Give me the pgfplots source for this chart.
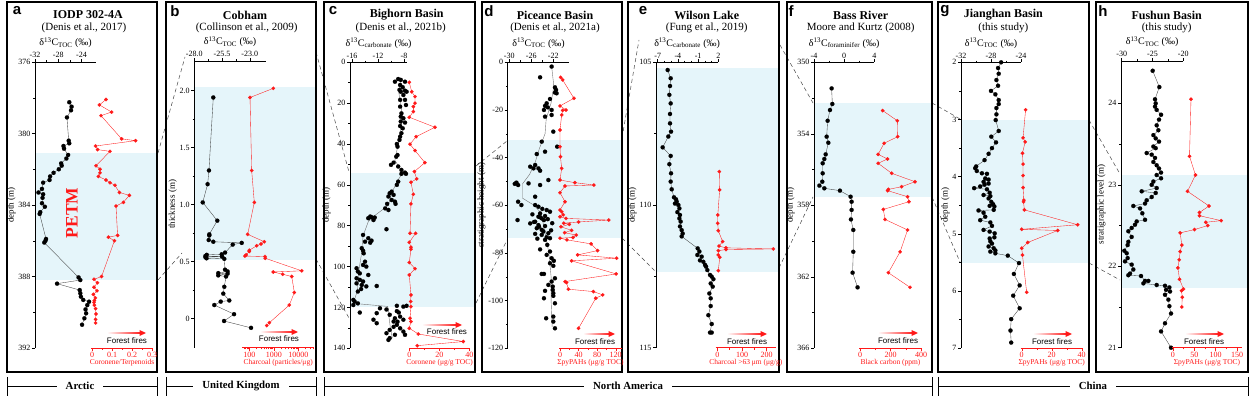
\documentclass[border=0pt]{standalone}
\usepackage{fontspec}
\setmainfont{Liberation Serif}
\newfontfamily\arial{Liberation Sans}
\usepackage{pgfplots}
\pgfplotsset{compat=1.18}
\usetikzlibrary{arrows.meta}
\definecolor{band}{RGB}{229,245,250}
\definecolor{myred}{RGB}{255,25,25}
\definecolor{dgray}{RGB}{70,70,70}
\pgfplotsset{
  base/.style={scale only axis, clip=false,
    /pgf/number format/assume math mode=true,
    tick label style={font=\fontsize{8}{9}\selectfont},
    major tick length=3pt, minor tick length=1.8pt},
  noarrows/.style={axis line style={-}, every outer x axis line/.append style={-}, every outer y axis line/.append style={-},
    every inner x axis line/.append style={-}, every inner y axis line/.append style={-}},
  blkax/.style={base, axis y line=left,
    xlabel style={font=\fontsize{7.5}{8}\selectfont, inner sep=1pt},
    ylabel style={font=\fontsize{9}{10}\selectfont, inner sep=1pt},
    xticklabel style={inner sep=1pt}, yticklabel style={inner sep=1.5pt}},
  redax/.style={base, axis y line=none, ytick=\empty,
    xticklabel style={text=myred, inner sep=1pt},
    xlabel style={text=myred, font=\fontsize{7.5}{8}\selectfont, inner sep=0.5pt}},
  redfin/.style={noarrows, axis line style={myred, line width=0.5pt}, every tick/.style={myred, line width=0.4pt}, tick align=outside},
  blkfin/.style={noarrows, axis line style={black, line width=0.6pt}, every tick/.style={black, line width=0.5pt}, tick align=outside},
  bk/.style={draw=black!75, line width=0.35pt, mark=*, mark size=2.1pt, mark options={fill=black, draw=black, line width=0.1pt}},
  bkm/.style={only marks, mark=*, mark size=2.1pt, mark options={fill=black, draw=black, line width=0.1pt}},
  trend/.style={draw=black!55, line width=0.4pt, no marks},
  rd/.style={draw=myred, line width=0.35pt, mark=*, mark size=1.8pt, mark options={fill=myred, draw=myred, line width=0.1pt}},
}
\begin{document}
\begin{tikzpicture}[x=1pt,y=1pt]
\path[use as bounding box] (0,0) rectangle (1254,399);
\begin{scope}[shift={(0,399)}, yscale=-1]
% bands
\fill[band] (35,153) rectangle (157,280);
\fill[band] (194.3,87.3) rectangle (316,260);
\fill[band] (350,173.3) rectangle (475,306.7);
\fill[band] (507.7,140) rectangle (622,238.3);
\fill[band] (656,67.7) rectangle (779,271.7);
\fill[band] (814,102.7) rectangle (932,196.7);
\fill[band] (961,120) rectangle (1089,262.7);
\fill[band] (1121,175) rectangle (1248,288.3);
% dashed correlation lines
\begin{scope}[dgray, line width=0.5pt, dash pattern=on 4pt off 3pt]
\draw (158,153) -- (185,57);
\draw (158,280) -- (182,253);
\draw (316,52) -- (349,172);
\draw (316,259) -- (349,318);
\draw (476,166) -- (507,141);
\draw (476,303) -- (507,240);
\draw (622,138) -- (639,40);
\draw (622,238) -- (655,271);
\draw (780,45) -- (813,103);
\draw (779,268) -- (813,197);
\draw (932,103) -- (960,119);
\draw (932,197) -- (960,262);
\draw (1089,120) -- (1120,174);
\draw (1089,263) -- (1120,280);
\end{scope}
% frames
\begin{scope}[line width=1.6pt]
\draw (7,2) rectangle (157,372);
\draw (166,2) rectangle (316,372);
\draw (324,2) rectangle (475,372);
\draw (482,2) rectangle (622,372);
\draw (628,2) rectangle (779,372);
\draw (787,2) rectangle (932,372);
\draw (938,2) rectangle (1089,372);
\draw (1096,2) rectangle (1248,372);
\end{scope}
% titles
\begin{scope}[font=\fontsize{12}{14}\selectfont\bfseries]
\node at (88,15) {IODP 302-4A};
\node at (245,15) {Cobham};
\node at (406.7,15) {Bighorn Basin};
\node at (555,15) {Piceance Basin};
\node at (706.7,15) {Wilson Lake};
\node at (860.7,15) {Bass River};
\node at (1003.3,15) {Jianghan Basin};
\node at (1166.7,15) {Fushun Basin};
\end{scope}
\begin{scope}[font=\fontsize{11}{13}\selectfont]
\node at (84,28) {(Denis et al., 2017)};
\node at (246.7,28) {(Collinson et al., 2009)};
\node at (400.7,28) {(Denis et al., 2021b)};
\node at (555,28) {(Denis et al., 2021a)};
\node at (706.7,28) {(Fung et al., 2019)};
\node at (860.7,28) {Moore and Kurtz (2008)};
\node at (1003.3,28) {(this study)};
\node at (1166.7,28) {(this study)};
\end{scope}
\begin{scope}[font=\arial\fontsize{15}{16}\selectfont\bfseries]
\node at (17,11) {a};
\node at (175,11) {b};
\node at (333,11) {c};
\node at (489,11) {d};
\node at (643,11) {e};
\node at (791,11) {f};
\node at (945,11) {g};
\node at (1103,11) {h};
\end{scope}
\node[rotate=90, text=myred, font=\fontsize{17.5}{18}\selectfont\bfseries] at (72,213) {PETM};
% forest fire arrows
\foreach \xa/\xb/\ya/\xt/\yt in {107/146/333/127/341, 260/298/332/279/339, 422/462/325/447/332, 583/615/334/595/342, 727/767/334/747/342, 878/918/333/898/341, 1033/1072/334/1052/342, 1185/1224/334/1204/342}{
  \shade[left color=white, right color=myred] (\xa,\ya-0.8) rectangle (\xb-5,\ya+0.8);
  \fill[myred] (\xb-6.5,\ya-3) -- (\xb,\ya) -- (\xb-6.5,\ya+3) -- cycle;
  \node[font=\arial\fontsize{8}{9}\selectfont] at (\xt,\yt) {Forest fires};
}
% region bars
\begin{scope}[line width=0.8pt]
\foreach \xa/\xb/\xc/\txt in {7/157/80/Arctic, 166/316/241/United Kingdom, 324/932/628/North America, 938/1248/1093/China}{
  \draw (\xa,386) -- (\xb,386);
  \draw (\xa,377) -- (\xa,396);
  \draw (\xb,377) -- (\xb,396);
  \node[fill=white, inner xsep=9pt, inner ysep=1pt, font=\fontsize{10.8}{12}\selectfont\bfseries] at (\xc,386) {\txt};
}
\end{scope}
\end{scope}

% ================= Panel a =================
\begin{axis}[blkax, at={(35pt,51pt)}, anchor=south west, width=61pt, height=286pt,
  xmin=-32, xmax=-21.5, ymin=376, ymax=392, y dir=reverse, axis x line=top,
  xtick={-32,-28,-24}, minor x tick num=1, ytick={376,380,384,388,392}, minor y tick num=1,
  xlabel={δ\textsuperscript{13}C\textsubscript{TOC} (‰)}, ylabel={depth (m)}, blkfin]
\addplot[bk] coordinates {(-26.1,378.25)(-25.7,378.5)(-25.8,378.7)(-26.5,379.1)(-26.2,380.4)(-26.1,380.55)(-27.1,380.7)(-27.0,380.85)(-26.3,381.2)(-26.6,381.4)(-27.5,381.67)(-27.4,381.8)(-27.9,382.0)(-28.8,382.2)(-29.4,382.4)(-29.5,382.6)(-30.6,382.75)(-30.8,383.1)(-31.4,383.3)(-30.6,383.4)(-30.7,383.6)(-30.8,383.9)(-30.3,384.1)(-31.1,384.4)(-31.2,384.5)(-30.1,385.9)(-30.2,386.0)(-30.4,386.1)(-24.5,388.05)(-24.2,388.2)(-28.2,388.4)(-24.3,388.76)(-24.2,388.94)(-24.1,389.13)(-23.7,389.31)(-22.7,389.41)(-23.0,389.6)(-23.3,389.84)(-23.2,390.06)(-23.5,390.34)(-23.9,390.7)};
\end{axis}
\begin{axis}[redax, at={(91pt,51pt)}, anchor=south west, width=62pt, height=286pt,
  xmin=-0.005, xmax=0.305, ymin=376, ymax=392, y dir=reverse, axis x line=bottom,
  xtick={0,0.1,0.2,0.3}, minor x tick num=1, xlabel={Coronene/Terpenoids}, redfin]
\addplot[rd] coordinates {(0.07,378.1)(0.037,378.4)(0.098,378.8)(0.045,379.0)(0.148,380.3)(0.218,380.4)(0.018,380.7)(0.028,380.9)(0.09,381.0)(0.02,381.8)(0.04,382.0)(0.04,382.2)(0.032,382.4)(0.07,382.6)(0.09,382.75)(0.115,382.9)(0.137,383.3)(0.187,383.46)(0.157,383.85)(0.12,384.06)(0.128,385.7)(0.082,385.8)(0.112,386.0)(0.048,388.0)(0.01,388.16)(0.027,388.35)(0.01,388.6)(0.025,388.8)(0.007,389.0)(0.017,389.2)(0.012,389.35)(0.01,389.45)(0.012,389.6)(0.018,389.8)(0.02,390.1)(0.018,390.4)(0.018,390.6)};
\end{axis}

% ================= Panel b =================
\begin{axis}[blkax, at={(194.3pt,51.3pt)}, anchor=south west, width=71.4pt, height=286.7pt,
  xmin=-28, xmax=-21.57, ymin=-0.254, ymax=2.26, axis x line=top,
  xtick={-28,-25.5,-23}, xticklabels={-28.0,-25.5,-23.0}, minor x tick num=1,
  ytick={0,0.5,1,1.5,2}, yticklabels={0,0.5,1.0,1.5,2.0}, minor y tick num=1,
  xlabel={δ\textsuperscript{13}C\textsubscript{TOC} (‰)}, ylabel={thickness (m)}, blkfin]
\addplot[bk] coordinates {(-26.29,1.94)(-26.68,1.30)(-26.8,1.18)(-27.24,1.02)(-25.93,0.86)(-26.65,0.74)(-26.65,0.73)(-26.7,0.69)(-26.29,0.675)(-23.73,0.665)(-24.54,0.65)(-25.23,0.58)(-25.53,0.565)(-26.88,0.56)(-27.0,0.55)(-25.5,0.545)(-27.0,0.54)(-26.9,0.53)(-25.3,0.525)(-25.23,0.43)(-25.0,0.415)(-25.84,0.40)(-25.0,0.395)(-25.84,0.38)(-25.14,0.37)(-25.3,0.28)(-25.39,0.22)(-24.85,0.16)(-25.62,0.15)(-26.2,0.12)(-24.42,0.04)(-25.32,-0.02)(-22.89,-0.08)};
\end{axis}
\begin{axis}[redax, at={(242.3pt,51.3pt)}, anchor=south west, width=71.7pt, height=286.7pt,
  xmode=log, xmin=51.8, xmax=43750, ymin=-0.254, ymax=2.26, axis x line=bottom,
  xtick={100,1000,10000}, xticklabels={100,1000,10000},
  minor xtick={60,70,80,90,200,300,400,500,600,700,800,900,2000,3000,4000,5000,6000,7000,8000,9000,20000,30000,40000},
  xlabel={Charcoal (particles/μg)}, redfin]
\addplot[rd] coordinates {(950,2.02)(107,1.94)(125,1.30)(160,1.02)(86,0.74)(410,0.675)(300,0.655)(200,0.64)(100,0.60)(100,0.59)(74,0.56)(66,0.55)(437,0.545)(450,0.53)(13800,0.42)(950,0.41)(2300,0.39)(5400,0.37)(6900,0.23)(4300,0.12)(660,-0.035)(515,-0.06)};
\end{axis}

% ================= Panel c =================
\begin{axis}[blkax, at={(350pt,50.7pt)}, anchor=south west, width=57pt, height=286pt,
  xmin=-16.31, xmax=-7.54, ymin=0, ymax=140, y dir=reverse, axis x line=top,
  xtick={-16,-12,-8}, minor x tick num=1, ytick={0,20,...,140}, minor y tick num=1,
  xlabel={δ\textsuperscript{13}C\textsubscript{carbonate} (‰)}, ylabel={depth (m)}, blkfin]
\addplot[trend] coordinates {(-8.5,8)(-8.8,15)(-8.4,22)(-8.4,30)(-8.9,40)(-9.4,48)(-8.2,54)(-9,58)(-9.9,64)(-10.4,70)(-12.5,75)(-13.5,78)(-14.3,85)(-14.6,95)(-15.0,103)(-15.2,112)(-15.8,118)(-10.5,119.5)(-10.3,125)(-10.1,130)(-9.8,135)};
\addplot[bkm] coordinates {(-8.9,8.2)(-8.5,8.6)(-9.4,9.5)(-7.85,9.5)(-8.6,11.1)(-8.2,12.2)(-8.7,13.5)(-8.5,14.4)(-7.85,13.9)(-7.6,14.4)(-8.1,16.0)(-8.6,18.4)(-7.85,18.4)(-7.7,20.9)(-8.6,21.7)(-8.4,25)(-8.5,26.6)(-8.1,27.4)(-8.5,29)(-7.85,29.5)(-8.6,31.2)(-8.2,32.3)(-8.4,34.7)(-8.6,36.4)(-8.7,38)(-9.1,40)(-9.0,41.3)(-9.0,45.4)(-9.2,46.2)(-9.6,49.1)(-10.0,50.2)(-8.9,51)(-8.4,52.7)(-7.85,54)(-7.7,54.6)(-8.4,54.6)(-8.9,58.4)(-9.1,60)(-9.9,63.3)(-10.2,64.1)(-9.6,64.9)(-10.4,65.7)(-9.9,67.4)(-9.4,68.2)(-10.6,69.3)(-9.3,69.3)(-10.9,71.5)(-10.4,72.3)(-13.2,75.5)(-13.5,76.3)(-12.5,76)(-12.7,77.2)(-13.0,75.8)(-10.7,81.7)(-14.3,84.5)(-13.5,86.1)(-13.0,87.3)(-13.2,88.3)(-14.0,87.8)(-14.5,91)(-14.3,92.2)(-14.2,93.5)(-14.0,97.6)(-14.3,99.2)(-13.8,100)(-15.3,100.8)(-15.1,102.4)(-14.8,103.3)(-13.5,104.1)(-15.3,105.7)(-14.8,106.5)(-14.3,107.3)(-15.3,108.2)(-14.5,109)(-12.2,109.5)(-13.8,109.7)(-15.1,112.2)(-14.6,111)(-15.8,116.3)(-15.6,117.1)(-15.1,118)(-15.8,118.8)(-9.1,119.2)(-8.1,119.6)(-7.6,119.2)(-11.7,120.4)(-10.7,121)(-9.1,121.8)(-14.8,122.5)(-12.2,122.8)(-10.2,123.6)(-8.6,124.5)(-9.4,125.3)(-8.1,126)(-9.6,126.9)(-12.7,126)(-12.2,127.7)(-9.1,128.5)(-8.6,130.2)(-10.2,131)(-8.1,131.8)(-10.7,132.6)(-9.4,133.4)(-7.85,133.4)(-10.2,135)(-10.4,135.9)(-9.0,127)(-8.8,122.5)(-9.6,129.5)};
\end{axis}
\begin{axis}[redax, at={(409.3pt,50.7pt)}, anchor=south west, width=60.7pt, height=286pt,
  xmin=0, xmax=40.47, ymin=0, ymax=140, y dir=reverse, axis x line=bottom,
  xtick={0,20,40}, minor x tick num=1, xlabel={Coronene (μg/g TOC)}, redfin]
\addplot[rd] coordinates {(0,9.8)(1.6,14.4)(3.8,16.8)(3.8,20)(2.7,21.7)(2.7,24.1)(0,26.9)(17.1,31.8)(4.5,36.4)(0.5,40.1)(3.8,43.2)(10.4,49.1)(3.4,53.5)(4.9,57.1)(1.1,58.7)(2.7,64.6)(1.1,69.3)(0.5,83.7)(4.2,83.7)(0,88.1)(1.1,90.5)(1.1,91.5)(0,98)(3.8,101)(0,104.1)(1.1,113.9)(0.9,117.1)(1.1,119.6)(0.5,125.3)(1.1,126.9)(0,130.2)(6,133)(36,136.7)(5.3,138.7)};
\end{axis}

% ================= Panel d =================
\begin{axis}[blkax, at={(507.7pt,50.7pt)}, anchor=south west, width=61.6pt, height=286pt,
  xmin=-30.29, xmax=-19.09, ymin=-120, ymax=0, axis x line=top,
  xtick={-30,-26,-22}, minor x tick num=1, ytick={-120,-100,...,0}, minor y tick num=1,
  xlabel={δ\textsuperscript{13}C\textsubscript{TOC} (‰)}, ylabel={stratigraphic height (m)}, blkfin]
\addplot[trend] coordinates {(-22.3,-1.8)(-21.9,-10)(-22.4,-17)(-23.3,-24)(-23.5,-30)(-24.5,-36)(-25.3,-42)(-26.3,-47)(-27.6,-51)(-27.6,-57)(-25.5,-60)(-24.3,-63)(-23.8,-68)(-23.3,-74)(-22.8,-80)(-22.4,-90)(-22.4,-100)(-22.2,-111)};
\addplot[bkm] coordinates {(-22.3,-1.8)(-24.4,-6.3)(-21.7,-10.5)(-21.5,-11.6)(-21.7,-12.7)(-21.4,-13.0)(-22.6,-15.4)(-23.2,-17.2)(-23.5,-18.3)(-23.0,-18.9)(-23.7,-20.0)(-22.3,-20.0)(-22.3,-22.1)(-23.5,-22.8)(-22.0,-29.1)(-24.1,-33.3)(-21.3,-35.4)(-23.5,-37.5)(-25.0,-38.5)(-26.2,-43.8)(-25.3,-43.1)(-24.7,-44.5)(-25.6,-44.5)(-24.4,-45.5)(-22.9,-49.4)(-28.7,-50.5)(-28.4,-51.5)(-29.0,-51.0)(-26.5,-50.8)(-24.4,-51.5)(-25.3,-56.4)(-28.4,-58.5)(-27.8,-59.9)(-25.3,-59.9)(-24.7,-60.6)(-22.6,-62.7)(-24.4,-63.4)(-23.5,-64.5)(-24.7,-64.8)(-24.1,-65.5)(-23.7,-66.2)(-28.5,-66.2)(-25.3,-66.9)(-26.2,-67.6)(-24.7,-68.3)(-23.5,-68.7)(-25.0,-69.6)(-24.1,-70.3)(-22.9,-71.7)(-24.1,-72.4)(-23.2,-73.4)(-22.6,-73.8)(-23.5,-74.5)(-23.1,-76.6)(-24.4,-78.5)(-22.6,-79.4)(-23.2,-80.8)(-22.3,-82.2)(-21.9,-83.3)(-22.6,-84.3)(-22.0,-85.4)(-24.1,-88.8)(-23.7,-88.8)(-21.7,-90.6)(-22.3,-92.0)(-22.9,-93.4)(-22.1,-94.1)(-22.1,-95.5)(-23.5,-95.9)(-22.0,-96.9)(-22.0,-98.0)(-23.7,-99.0)(-21.7,-101.1)(-22.0,-106.7)(-23.3,-107.4)(-22.0,-108.8)(-21.7,-111.6)(-24.0,-61.5)(-23.2,-62)(-25.8,-63.8)(-24.4,-65)(-23.0,-65.8)(-25.5,-67)(-22.2,-67.5)(-24.6,-69)(-23.8,-71)(-25.3,-72)(-22.4,-70.5)(-24.9,-74)};
\end{axis}
\begin{axis}[redax, at={(559.3pt,50.7pt)}, anchor=south west, width=62.4pt, height=286pt,
  xmin=-1.5, xmax=132.9, ymin=-120, ymax=0, axis x line=bottom,
  xtick={0,40,80,120}, minor x tick num=1, xlabel={ΣpyPAHs (μg/g TOC)}, redfin]
\addplot[rd] coordinates {(1.4,-6.3)(5.7,-7.4)(30,-15.1)(0,-18.3)(12.9,-20)(5.7,-20.2)(3.6,-22.1)(0,-28.4)(0,-35.4)(1,-39.6)(3.6,-44.5)(0,-49.4)(32,-50.5)(73,-51.5)(10.8,-51.9)(0,-54.7)(10.8,-58.5)(0,-62)(3.6,-62.7)(7,-64)(0,-64.8)(12.9,-65.5)(105,-66.2)(40,-67)(8,-67.5)(20,-68)(2,-69)(25,-70.5)(10,-71.5)(35,-72.5)(28,-73.5)(0,-73.8)(15,-74.5)(67,-76.2)(81,-79)(38,-80.8)(122,-82.2)(25,-83.3)(121,-88.8)(11,-92)(14,-92.4)(18,-95.2)(72,-96.2)(92,-97.6)(77,-99)(40,-111.6)};
\end{axis}

% ================= Panel e =================
\begin{axis}[blkax, at={(656pt,51.3pt)}, anchor=south west, width=62.3pt, height=285.4pt,
  xmin=-7.25, xmax=2, ymin=105, ymax=115, y dir=reverse, axis x line=top,
  xtick={-7,-4,-1,2}, minor x tick num=2, ytick={105,110,115}, minor y tick num=1,
  xlabel={δ\textsuperscript{13}C\textsubscript{carbonate} (‰)}, ylabel={depth (m)}, blkfin]
\addplot[bk] coordinates {(-5.52,105.27)(-5.07,105.56)(-5.17,105.83)(-5.27,106.14)(-5.07,106.44)(-5.17,106.81)(-5.17,107.14)(-5.02,107.43)(-5.42,107.6)(-6.26,107.98)(-5.07,108.28)(-5.27,108.57)(-5.02,108.89)(-5.07,109.18)(-4.92,109.45)(-4.58,109.73)(-4.28,109.8)(-4.18,109.88)(-4.43,109.95)(-3.93,110.0)(-3.78,110.12)(-4.08,110.25)(-3.69,110.35)(-3.78,110.47)(-3.59,110.58)(-3.69,110.75)(-3.44,110.88)(-3.29,111.0)(-3.44,111.1)(-1.06,111.52)(-0.81,111.63)(-1.11,111.75)(-0.47,111.81)(-0.72,111.94)(-0.22,111.99)(0.03,112.1)(0.18,112.16)(0.37,112.28)(0.77,112.45)(1.02,112.51)(1.27,112.6)(0.87,112.75)(1.17,112.86)(0.67,113.1)(0.87,113.27)(0.87,113.54)(0.52,113.86)(1.02,114.17)(0.77,114.47)(1.02,114.47)};
\end{axis}
\begin{axis}[redax, at={(715.7pt,51.3pt)}, anchor=south west, width=60.3pt, height=285.4pt,
  xmin=-6.5, xmax=237.7, ymin=105, ymax=115, y dir=reverse, axis x line=bottom,
  xtick={0,100,200}, minor x tick num=1, xlabel={Charcoal >63 μm (μg/g)}, redfin]
\addplot[rd] coordinates {(8,108.83)(9.5,109.47)(2,110.35)(1.5,110.64)(4,110.9)(21.6,111.28)(6.9,111.44)(35,111.5)(227,111.54)(35,111.56)(4,111.6)(4,111.75)(10,111.83)(4,112.3)};
\end{axis}

% ================= Panel f =================
\begin{axis}[blkax, at={(814pt,50.7pt)}, anchor=south west, width=60.3pt, height=286pt,
  xmin=-4, xmax=4, ymin=350, ymax=366, y dir=reverse, axis x line=top,
  xtick={-4,0,4}, minor x tick num=1, ytick={350,354,...,366}, minor y tick num=1,
  xlabel={δ\textsuperscript{13}C\textsubscript{foraminifer} (‰)}, ylabel={depth (m)}, blkfin]
\addplot[bk] coordinates {(-1.66,351.46)(-1.57,352.33)(-1.88,352.67)(-2.19,353.27)(-2.32,354.16)(-2.1,354.5)(-2.45,355.15)(-2.63,355.41)(-2.85,355.65)(-2.85,356.21)(-2.9,356.68)(-3.29,356.9)(-2.63,357.05)(-0.56,357.18)(0.86,357.52)(0.99,357.8)(0.99,358.26)(0.9,358.79)(1.21,359.38)(1.21,360.6)(1.12,361.77)(1.78,362.59)};
\end{axis}
\begin{axis}[redax, at={(859.3pt,50.7pt)}, anchor=south west, width=62.4pt, height=286pt,
  xmin=-4.6, xmax=404.6, ymin=350, ymax=366, y dir=reverse, axis x line=bottom,
  xtick={0,200,400}, minor x tick num=1, xlabel={Black carbon (ppm)}, redfin]
\addplot[rd] coordinates {(148.6,352.7)(244.8,353.27)(247,354.16)(158,354.53)(118.8,355.15)(180,355.41)(118.8,355.65)(208,356.21)(360.6,356.68)(273,356.96)(186,357.11)(181,357.18)(312,357.52)(321,357.8)(153,358.23)(164,358.79)(312,359.38)(263,360.6)(186,361.77)(328,362.59)};
\end{axis}

% ================= Panel g =================
\begin{axis}[blkax, at={(961pt,50.7pt)}, anchor=south west, width=60pt, height=286pt,
  xmin=-32, xmax=-24, ymin=2, ymax=7, y dir=reverse, axis x line=top,
  xtick={-32,-28,-24}, minor x tick num=1, ytick={2,3,4,5,6,7}, minor y tick num=1,
  xlabel={δ\textsuperscript{13}C\textsubscript{TOC} (‰)}, ylabel={depth (m)}, blkfin]
\addplot[bk] coordinates {(-26.65,2.0)(-27.06,2.1)(-26.97,2.2)(-27.28,2.31)(-27.06,2.41)(-28.0,2.5)(-27.42,2.56)(-26.97,2.66)(-26.97,2.73)(-27.28,2.8)(-27.28,2.91)(-27.37,3.01)(-26.97,3.2)(-27.96,3.3)(-27.33,3.4)(-27.87,3.5)(-28.32,3.6)(-28.86,3.71)(-29.98,3.82)(-30.11,3.85)(-29.89,3.9)(-29.21,3.94)(-28.54,3.95)(-28.77,4.03)(-28.32,4.05)(-28.99,4.09)(-28.32,4.12)(-28.86,4.14)(-29.44,4.17)(-30.25,4.2)(-28.54,4.22)(-28.18,4.28)(-28.99,4.32)(-28.09,4.34)(-28.32,4.38)(-27.96,4.44)(-27.73,4.48)(-28.18,4.51)(-27.55,4.52)(-27.64,4.58)(-29.66,4.59)(-28.99,4.63)(-28.77,4.7)(-29.44,4.76)(-28.09,4.8)(-27.87,4.86)(-28.99,4.93)(-28.18,4.96)(-27.51,4.99)(-27.55,5.06)(-28.18,5.08)(-28.09,5.13)(-27.87,5.17)(-28.32,5.22)(-27.64,5.25)(-27.42,5.29)(-28.09,5.31)(-27.42,5.34)(-25.76,5.38)(-24.27,5.51)(-24.95,5.7)(-24.18,5.9)(-25.04,6.08)(-24.18,6.3)(-25.31,6.49)(-25.4,6.69)(-25.31,6.9)};
\end{axis}
\begin{axis}[redax, at={(1020.7pt,50.7pt)}, anchor=south west, width=62pt, height=286pt,
  xmin=-0.67, xmax=40.67, ymin=2, ymax=7, y dir=reverse, axis x line=bottom,
  xtick={0,20,40}, minor x tick num=1, xlabel={ΣpyPAHs (μg/g TOC)}, redfin]
\addplot[rd] coordinates {(2.6,2.83)(0.9,3.32)(2.3,3.39)(0.5,3.59)(0.9,3.78)(0.9,3.98)(0.9,4.19)(1.4,4.41)(1.2,4.44)(1.8,4.58)(37.3,4.84)(0,4.92)(24,4.94)(4,5.15)(0,5.25)(0.5,5.37)(3.3,6.02)};
\end{axis}

% ================= Panel h =================
\begin{axis}[blkax, at={(1121pt,51.3pt)}, anchor=south west, width=62.3pt, height=286.7pt,
  xmin=-30.11, xmax=-20, ymin=21, ymax=24.52, axis x line=top,
  xtick={-30,-25,-20}, minor x tick num=1, ytick={21,22,23,24}, minor y tick num=1,
  xlabel={δ\textsuperscript{13}C\textsubscript{TOC} (‰)}, ylabel={stratigraphic level (m)}, blkfin]
\addplot[bk] coordinates {(-24.97,24.40)(-23.89,24.20)(-24.59,24.05)(-24.48,24.0)(-24.59,23.96)(-24.32,23.92)(-23.61,23.86)(-23.94,23.80)(-24.32,23.73)(-24.05,23.67)(-24.86,23.61)(-24.48,23.57)(-23.94,23.53)(-24.86,23.47)(-24.48,23.45)(-25.94,23.39)(-25.13,23.37)(-24.59,23.33)(-24.86,23.28)(-24.32,23.24)(-23.94,23.20)(-23.61,23.15)(-24.32,23.12)(-23.61,23.08)(-24.86,23.04)(-25.13,23.00)(-24.32,22.96)(-26.75,22.92)(-24.48,22.90)(-25.13,22.85)(-25.94,22.81)(-26.21,22.77)(-28.11,22.74)(-27.02,22.71)(-26.65,22.65)(-26.21,22.57)(-27.56,22.55)(-27.84,22.51)(-28.38,22.47)(-28.92,22.43)(-28.38,22.36)(-28.92,22.30)(-29.03,22.26)(-29.57,22.19)(-29.19,22.16)(-29.03,22.10)(-29.46,22.06)(-28.38,22.02)(-28.11,21.96)(-28.65,21.91)(-28.92,21.89)(-26.86,21.88)(-26.21,21.82)(-25.67,21.82)(-26.48,21.79)(-24.32,21.77)(-22.97,21.76)(-22.26,21.74)(-22.80,21.71)(-22.15,21.69)(-22.97,21.65)(-22.42,21.59)(-22.26,21.51)(-21.99,21.42)(-22.97,21.30)(-23.61,21.20)(-21.99,21.0)};
\end{axis}
\begin{axis}[redax, at={(1172.3pt,51.3pt)}, anchor=south west, width=69.4pt, height=286.7pt,
  xmin=-1.6, xmax=161, ymin=21, ymax=24.52, axis x line=bottom,
  xtick={0,50,100,150}, minor x tick num=1, xlabel={ΣpyPAHs (μg/g TOC)}, redfin]
\addplot[rd] coordinates {(42.2,24.05)(38.7,23.35)(52.7,23.12)(34.0,22.92)(84.4,22.74)(62.2,22.66)(62.2,22.62)(113,22.56)(76.9,22.54)(81.6,22.5)(50.4,22.45)(16.8,22.41)(20.7,22.26)(16.8,22.18)(14.5,22.08)(11.4,21.98)(15.3,21.84)(24.6,21.72)(20,21.70)(21.7,21.62)(20.7,21.5)};
\end{axis}
\end{tikzpicture}
\end{document}
